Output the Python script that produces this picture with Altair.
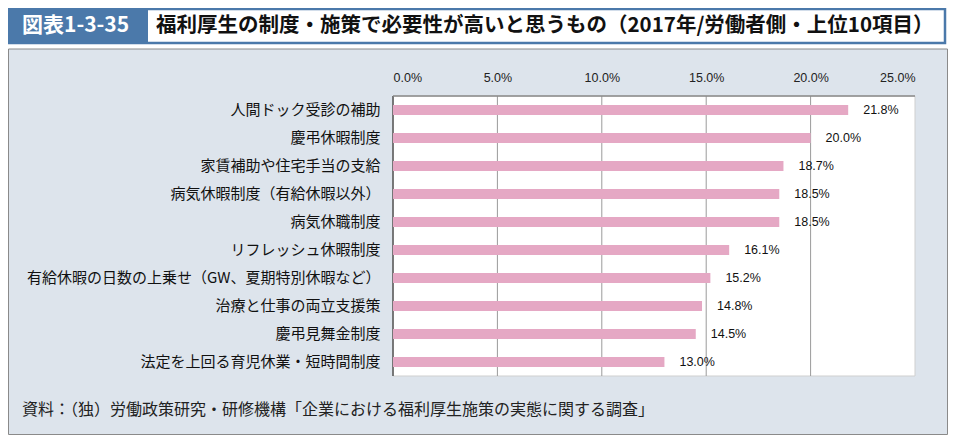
import altair as alt
import pandas as pd

# ---- data ----
categories = [
    "人間ドック受診の補助",
    "慶弔休暇制度",
    "家賃補助や住宅手当の支給",
    "病気休暇制度（有給休暇以外）",
    "病気休職制度",
    "リフレッシュ休暇制度",
    "有給休暇の日数の上乗せ（GW、夏期特別休暇など）",
    "治療と仕事の両立支援策",
    "慶弔見舞金制度",
    "法定を上回る育児休業・短時間制度",
]
values = [21.8, 20.0, 18.7, 18.5, 18.5, 16.1, 15.2, 14.8, 14.5, 13.0]
tick_values = [0, 5, 10, 15, 20, 25]
grid_values = [5, 10, 15, 20]
fig_label = "図表1-3-35"
title_text = "福利厚生の制度・施策で必要性が高いと思うもの（2017年/労働者側・上位10項目）"
source_text = "資料：（独）労働政策研究・研修機構「企業における福利厚生施策の実態に関する調査」"

# ---- styling ----
W, H = 522, 280
JP = "Noto Sans CJK JP"
NUM = "Liberation Sans"
BLUE = "#4b79aa"
PANEL = "#dde4ec"
PINK = "#e5a8c4"

df = pd.DataFrame({"category": categories, "value": values})
df["label"] = [f"{v:.1f}%" for v in values]
grid_df = pd.DataFrame({"v": grid_values})
one = alt.Data(values=[{}])

xscale = alt.Scale(domain=[0, 25], nice=False)
yscale = alt.Scale(domain=categories, paddingInner=0, paddingOuter=0)

xaxis = alt.Axis(
    orient="top", values=tick_values, grid=False, domain=False, ticks=False,
    labelExpr="format(datum.value, '.1f') + '%'", labelFont=NUM, labelFontSize=12.5,
    labelColor="#222222", labelPadding=12, title=None, zindex=1,
)
yaxis = alt.Axis(
    domain=False, ticks=False, grid=False, labelFont=JP, labelFontSize=15,
    labelColor="#111111", labelPadding=13, labelLimit=400, title=None, zindex=1,
)

panel = alt.Chart(one).mark_rect(fill=PANEL, stroke="#8a8a8a", strokeWidth=1).encode(
    x=alt.value(-384.5), x2=alt.value(554.5), y=alt.value(-47), y2=alt.value(338.5)
)
header_frame = alt.Chart(one).mark_rect(fill="white", stroke=BLUE, strokeWidth=2.5).encode(
    x=alt.value(-384), x2=alt.value(552), y=alt.value(-87), y2=alt.value(-53)
)
header_box = alt.Chart(one).mark_rect(fill=BLUE).encode(
    x=alt.value(-385), x2=alt.value(-245), y=alt.value(-88), y2=alt.value(-52)
)
fig_text = alt.Chart(one).mark_text(
    text=fig_label, font=JP, fontSize=21, fontWeight="bold", color="white",
    align="left", baseline="middle"
).encode(x=alt.value(-371), y=alt.value(-70))
title = alt.Chart(one).mark_text(
    text=title_text, font=JP, fontSize=20.5, fontWeight="bold", color="#111111",
    align="left", baseline="middle"
).encode(x=alt.value(-237), y=alt.value(-70))
source = alt.Chart(one).mark_text(
    text=source_text, font=JP, fontSize=16, color="#222222",
    align="left", baseline="middle"
).encode(x=alt.value(-371), y=alt.value(314))

plot_bg = alt.Chart(one).mark_rect(fill="white", stroke="#cfcfcf", strokeWidth=1).encode(
    x=alt.value(0), x2=alt.value(W), y=alt.value(0), y2=alt.value(H)
)
grid = alt.Chart(grid_df).mark_rule(color="#9a9a9a", strokeWidth=1).encode(
    x=alt.X("v:Q", scale=xscale, axis=xaxis), y=alt.value(0), y2=alt.value(H)
)
left_border = alt.Chart(one).mark_rule(color="#555555", strokeWidth=1.5).encode(
    x=alt.value(0), y=alt.value(0), y2=alt.value(H)
)
top_border = alt.Chart(one).mark_rule(color="#8a8a8a", strokeWidth=1.5).encode(
    x=alt.value(0), x2=alt.value(W), y=alt.value(0)
)

bars = alt.Chart(df).mark_bar(size=10, color=PINK).encode(
    x=alt.X("value:Q", scale=xscale, axis=xaxis),
    y=alt.Y("category:N", sort=categories, scale=yscale, axis=yaxis),
)
labels = alt.Chart(df).mark_text(
    align="left", baseline="middle", dx=15, font=NUM, fontSize=12.5, color="#111111"
).encode(
    x=alt.X("value:Q", scale=xscale, axis=xaxis),
    y=alt.Y("category:N", sort=categories, scale=yscale, axis=yaxis),
    text="label:N",
)

chart = alt.layer(
    panel, header_frame, header_box, fig_text, title, source,
    plot_bg, grid, left_border, top_border, bars, labels
).properties(
    width=W, height=H,
    padding={"left": 385, "top": 88, "right": 33, "bottom": 59},
    autosize=alt.AutoSizeParams(type="none"),
    background="white",
).configure_view(stroke=None)

chart.save("out.html", embed_options={"renderer": "svg", "actions": False})
